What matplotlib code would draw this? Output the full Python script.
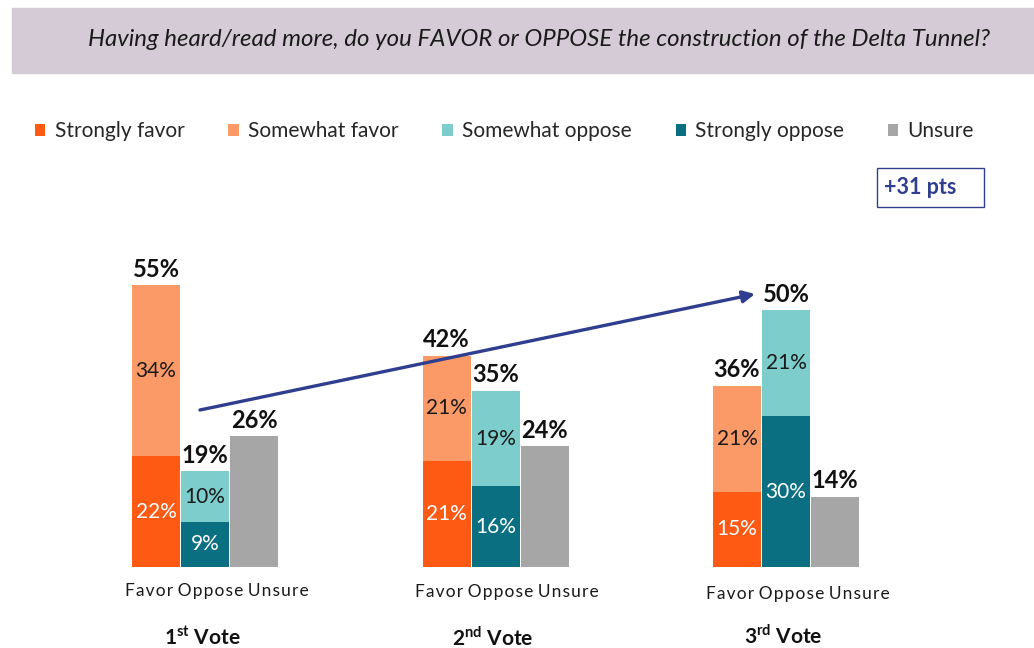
import matplotlib
matplotlib.use("Agg")
import matplotlib.pyplot as plt
from matplotlib.patches import Rectangle
import numpy as np

plt.rcParams['font.family'] = ['Lato', 'DejaVu Sans']
plt.rcParams['mathtext.fontset'] = 'custom'
plt.rcParams['mathtext.rm'] = 'Lato'
plt.rcParams['mathtext.bf'] = 'Lato:bold'

# data
votes = ['1', '2', '3']
vote_sup = ['st', 'nd', 'rd']
strongly_favor = [22, 21, 15]
somewhat_favor = [34, 21, 21]
somewhat_oppose = [10, 19, 21]
strongly_oppose = [9, 16, 30]
unsure = [26, 24, 14]
favor_total = [55, 42, 36]
oppose_total = [19, 35, 50]
legend_labels = ['Strongly favor', 'Somewhat favor', 'Somewhat oppose', 'Strongly oppose', 'Unsure']

c_sf = '#FF5A14'
c_wf = '#FB9A66'
c_wo = '#7CCDCB'
c_so = '#0B6F82'
c_un = '#A6A6A6'
navy = '#2F3E8E'

W, H = 1034, 648
fig = plt.figure(figsize=(W / 100, H / 100), dpi=100)

# banner
fig.add_artist(Rectangle((12 / W, 1 - 73 / H), 1 - 12 / W, 65 / H,
                         transform=fig.transFigure, color='#D5CBD7', zorder=0))
fig.text(539 / W, 1 - 40 / H,
         'Having heard/read more, do you FAVOR or OPPOSE the construction of the Delta Tunnel?',
         ha='center', va='center', style='italic', fontsize=17.3, color='#1a1a1a')

ax = fig.add_axes([0, 81 / H, 1, 302 / H])
ax.set_xlim(-205 / 290.5, (W - 205) / 290.5)
ax.set_ylim(0, 60)
ax.axis('off')

x = np.arange(len(votes))
off = 49 / 290.5
bw = 48 / 290.5

b1 = ax.bar(x - off, strongly_favor, bw, color=c_sf)
b2 = ax.bar(x - off, somewhat_favor, bw, bottom=strongly_favor, color=c_wf)
b4 = ax.bar(x, strongly_oppose, bw, color=c_so)
b3 = ax.bar(x, somewhat_oppose, bw, bottom=strongly_oppose, color=c_wo)
b5 = ax.bar(x + off, unsure, bw, color=c_un)

lab_fs = 15
cat_text = '\u200a'.join('Favor') + ' ' + '\u200a'.join('Oppose') + ' ' + '\u200a'.join('Unsure')
for i in range(len(votes)):
    ax.text(x[i] - off, strongly_favor[i] / 2, f'{strongly_favor[i]}%', ha='center', va='center',
            color='white', fontsize=lab_fs)
    ax.text(x[i] - off, strongly_favor[i] + somewhat_favor[i] / 2, f'{somewhat_favor[i]}%',
            ha='center', va='center', color='#1a1a1a', fontsize=lab_fs)
    ax.text(x[i], strongly_oppose[i] / 2, f'{strongly_oppose[i]}%', ha='center', va='center',
            color='white', fontsize=lab_fs)
    ax.text(x[i], strongly_oppose[i] + somewhat_oppose[i] / 2, f'{somewhat_oppose[i]}%',
            ha='center', va='center', color='#1a1a1a', fontsize=lab_fs)
    tops = [(x[i] - off, strongly_favor[i] + somewhat_favor[i], favor_total[i]),
            (x[i], strongly_oppose[i] + somewhat_oppose[i], oppose_total[i]),
            (x[i] + off, unsure[i], unsure[i])]
    for xx, yy, t in tops:
        ax.annotate(f'{t}%', (xx, yy), xytext=(0, 6), textcoords='offset points',
                    ha='center', va='baseline', fontsize=17, fontweight='bold', color='#111111')
    ax.annotate(cat_text, (x[i] + 0.04, 0), xytext=(0, -17 - 1.2 * i), textcoords='offset points',
                ha='center', va='center', fontsize=12.5, color='#1a1a1a')
    ax.annotate(votes[i] + r'$^{\mathbf{' + vote_sup[i] + '}}$ Vote', (x[i] - 0.01, 0),
                xytext=(0, -51 + (1.5 if i == 2 else 0)), textcoords='offset points',
                ha='center', va='center', fontsize=15, fontweight='bold', color='#111111')

# arrow
ax.annotate('', xy=(755 / W, 1 - 294 / H), xycoords='figure fraction',
            xytext=(200 / W, 1 - 410 / H), textcoords='figure fraction',
            arrowprops=dict(arrowstyle='-|>', color=navy, lw=2.4, mutation_scale=18,
                            shrinkA=0, shrinkB=0))

# +31 pts box
fig.add_artist(Rectangle((877 / W, 1 - 207 / H), 107 / W, 39 / H, transform=fig.transFigure,
                         fill=False, edgecolor=navy, lw=1.0))
fig.text(884 / W, 1 - 188 / H, '+31 pts', ha='left', va='center', fontsize=15.5,
         fontweight='bold', color=navy)

leg = fig.legend([b1, b2, b3, b4, b5], legend_labels, loc='center left',
                 bbox_to_anchor=(35 / W, 1 - 131 / H), ncol=5, frameon=False,
                 handlelength=0.5, handleheight=0.5, handletextpad=0.45,
                 columnspacing=2.1, fontsize=15, borderpad=0, borderaxespad=0)
for t in leg.get_texts():
    t.set_color('#262626')

fig.savefig('out.png', dpi=100)
